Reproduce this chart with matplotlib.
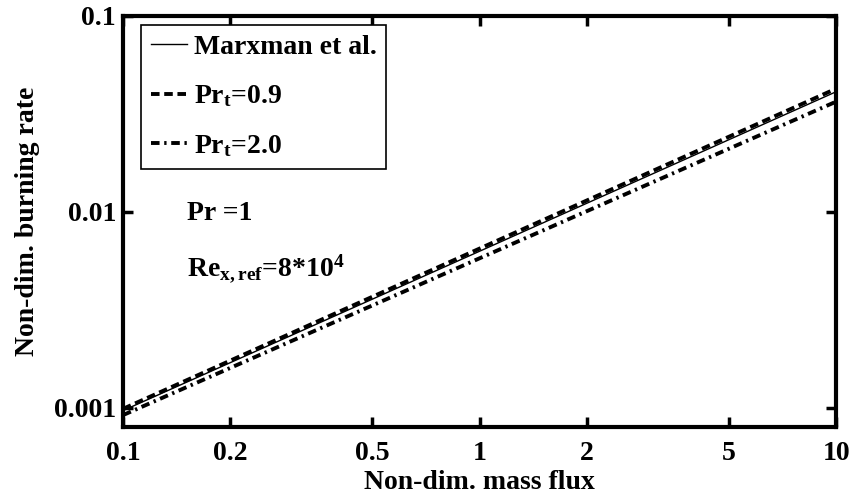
import numpy as np
import matplotlib
matplotlib.use("Agg")
import matplotlib.pyplot as plt

# valeurs (log-log, droites)
flux = [0.1, 1.0, 10.0]
marxman = [0.00097, 0.0063, 0.0410]
prt_09 = [0.00099, 0.0065, 0.0425]
prt_20 = [0.00092, 0.0058, 0.0365]

xticks = [0.1, 0.2, 0.5, 1, 2, 5, 10]
xticklabels = ["0.1", "0.2", "0.5", "1", "2", "5", "10"]
yticks = [0.001, 0.01, 0.1]
yticklabels = ["0.001", "0.01", "0.1"]

plt.rcParams["font.family"] = ["Liberation Serif", "DejaVu Serif"]
plt.rcParams["font.weight"] = "bold"
plt.rcParams["mathtext.fontset"] = "custom"
plt.rcParams["mathtext.rm"] = "Liberation Serif:bold"
plt.rcParams["mathtext.bf"] = "Liberation Serif:bold"
plt.rcParams["mathtext.it"] = "Liberation Serif:bold"

fs = 20

fig = plt.figure(figsize=(8.55, 4.99), dpi=100)
ax = fig.add_axes([0.1439, 0.1443, 0.834, 0.824])

ax.plot(flux, marxman, color="black", lw=1.0, label="Marxman et al.")
ax.plot(flux, prt_09, color="black", lw=2.8, ls=(0, (2.2, 1.2)), label=r"Pr$_\mathregular{t}$=0.9")
ax.plot(flux, prt_20, color="black", lw=2.8, ls=(0, (2.2, 1.2, 0.6, 1.2)), label=r"Pr$_\mathregular{t}$=2.0")

ax.set_xscale("log")
ax.set_yscale("log")
ax.set_xlim(0.1, 10)
ax.set_ylim(8e-4, 0.1)
ax.set_xticks(xticks)
ax.set_xticklabels(xticklabels)
ax.set_yticks(yticks)
ax.set_yticklabels(yticklabels)
ax.minorticks_off()
ax.tick_params(direction="in", length=7, width=2.5, labelsize=fs, top=True, right=True, pad=5)
ax.tick_params(axis="x", pad=10)
for s in ax.spines.values():
    s.set_linewidth(3)

ax.set_xlabel("Non-dim. mass flux", fontsize=fs, fontweight="bold", labelpad=3)
ax.set_ylabel("Non-dim. burning rate", fontsize=fs, fontweight="bold", labelpad=10)

leg = ax.legend(loc="upper left", bbox_to_anchor=(0.025, 0.978), fontsize=fs, handlelength=1.3,
                handletextpad=0.25, borderpad=0.35, labelspacing=0.85, borderaxespad=0,
                fancybox=False, framealpha=1)
leg.get_frame().set_edgecolor("black")
leg.get_frame().set_linewidth(1.2)

ax.text(0.09, 0.52, "Pr =1", transform=ax.transAxes, fontsize=fs, fontweight="bold", va="center")
ax.text(0.09, 0.385, r"Re$_\mathregular{x,ref}$=8*10$^\mathregular{4}$", transform=ax.transAxes,
        fontsize=fs, fontweight="bold", va="center")

fig.savefig("out.png", dpi=100)
